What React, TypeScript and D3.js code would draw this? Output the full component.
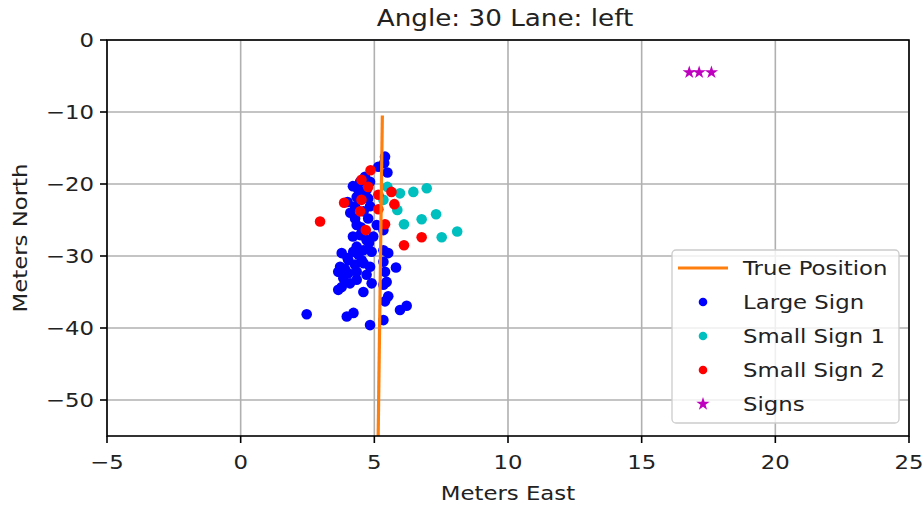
import React from 'react'
import * as d3 from 'd3'

// true path of the vehicle
const trueEast = [5.3, 5.14]
const trueNorth = [-10.5, -56]

// estimated positions from the large sign
const largeEast = [5.4, 5.37, 5.49, 5.15, 4.65, 4.47, 4.84, 4.4, 4.71, 4.34, 4.77, 4.28, 4.84, 4.28, 4.77, 4.34, 5.09, 5.34, 4.47, 4.96, 4.71, 4.34, 3.78, 4.21, 4.59, 4.9, 5.34, 5.52, 3.72, 4.03, 4.28, 4.53, 4.84, 5.34, 5.81, 3.65, 4.03, 4.34, 4.71, 5.4, 3.84, 4.34, 4.9, 5.46, 3.78, 4.09, 3.65, 4.59, 5.34, 5.52, 5.4, 5.96, 6.21, 2.47, 3.97, 4.22, 4.84, 5.34, 4.2, 4.5, 4.0, 4.6, 4.1, 4.5, 4.2, 4.8, 4.4, 4.0, 3.9, 4.6]
const largeNorth = [-16.2, -17.1, -18.4, -17.6, -19.0, -19.7, -19.7, -20.8, -20.8, -21.8, -22.0, -23.1, -23.1, -24.8, -24.8, -25.7, -25.7, -26.4, -27.1, -27.3, -27.8, -28.7, -29.6, -29.4, -29.2, -29.4, -29.2, -29.6, -31.5, -30.6, -31.2, -30.6, -31.5, -30.8, -31.6, -32.2, -32.4, -32.2, -32.6, -32.2, -33.1, -33.3, -33.8, -33.6, -34.3, -33.8, -34.7, -35.0, -34.0, -35.6, -36.3, -37.5, -36.9, -38.1, -38.4, -37.9, -39.6, -38.9, -20.3, -21.2, -22.5, -23.8, -24.0, -26.0, -27.3, -28.2, -29.8, -30.3, -31.8, -31.0]

// small sign 1
const small1East = [5.49, 5.96, 6.46, 6.96, 5.34, 5.86, 6.11, 6.77, 7.31, 7.52, 8.1]
const small1North = [-20.4, -21.3, -21.1, -20.6, -22.2, -23.6, -25.6, -24.9, -24.2, -27.4, -26.6]

// small sign 2
const small2East = [4.86, 4.52, 4.77, 5.64, 5.15, 4.52, 3.87, 5.75, 4.47, 5.15, 2.97, 5.4, 4.68, 6.77, 6.11]
const small2North = [-18.1, -19.4, -20.4, -21.1, -21.5, -22.2, -22.6, -22.8, -23.8, -23.5, -25.2, -25.6, -26.4, -27.4, -28.5]

// sign locations
const signEast = [16.78, 17.15, 17.61]
const signNorth = [-4.5, -4.5, -4.5]

const xTicks = [-5, 0, 5, 10, 15, 20, 25]
const yTicks = [0, -10, -20, -30, -40, -50]

const W = 924, H = 507
const left = 107, right = 909, top = 40, bottom = 436
const font = 'DejaVu Sans, sans-serif'
const ink = '#222'
const sx = 1.14 // glyphs in the source come out a bit wider

function Label({x, y, rotate = 0, anchor = 'start', size = 20, dy = '0', children}: any) {
  return (
    <text
      transform={`translate(${x},${y}) rotate(${rotate}) scale(${sx},1)`}
      textAnchor={anchor}
      dy={dy}
      fontSize={size}
      fill={ink}
    >
      {children}
    </text>
  )
}

export default function App() {
  const x = d3.scaleLinear().domain([-5, 25]).range([left, right])
  const y = d3.scaleLinear().domain([0, -55]).range([top, bottom])

  const dots = [
    {east: largeEast, north: largeNorth, color: '#0000ff'},
    {east: small1East, north: small1North, color: '#00bfbf'},
    {east: small2East, north: small2North, color: '#ff0000'},
  ]

  const line = d3.line<number>()
    .x(d => x(trueEast[d]))
    .y(d => y(trueNorth[d]))

  const star = d3.symbol().type(d3.symbolStar).size(55)

  const legendItems = [
    {label: 'True Position', kind: 'line', color: '#ff7f0e'},
    {label: 'Large Sign', kind: 'dot', color: '#0000ff'},
    {label: 'Small Sign 1', kind: 'dot', color: '#00bfbf'},
    {label: 'Small Sign 2', kind: 'dot', color: '#ff0000'},
    {label: 'Signs', kind: 'star', color: '#bf00bf'},
  ]

  const fmt = (t: number) => (t < 0 ? `\u2212${-t}` : `${t}`)

  return (
    <svg width={W} height={H} style={{position: 'absolute', left: 0, top: 0}} fontFamily={font}>
      <rect width={W} height={H} fill="#fff" />
      <defs>
        <clipPath id="plotArea">
          <rect x={left} y={top} width={right - left} height={bottom - top} />
        </clipPath>
      </defs>

      {/* grid */}
      <g stroke="#b0b0b0" strokeWidth={1.6}>
        {xTicks.map(t => <line key={`gx${t}`} x1={x(t)} x2={x(t)} y1={top} y2={bottom} />)}
        {yTicks.map(t => <line key={`gy${t}`} x1={left} x2={right} y1={y(t)} y2={y(t)} />)}
      </g>

      <g clipPath="url(#plotArea)">
        {dots.map((s, si) => (
          <g key={`s${si}`} fill={s.color}>
            {s.east.map((e, i) => (
              <circle key={i} cx={x(e)} cy={y(s.north[i])} r={5.3} />
            ))}
          </g>
        ))}
        {signEast.map((e, i) => (
          <path key={`st${i}`} d={star() as string} transform={`translate(${x(e)},${y(signNorth[i])})`} fill="#bf00bf" />
        ))}
        <path d={line(d3.range(trueEast.length)) as string} fill="none" stroke="#ff7f0e" strokeWidth={3.2} />
      </g>

      {/* spines */}
      <rect x={left} y={top} width={right - left} height={bottom - top} fill="none" stroke="#000" strokeWidth={1.6} />

      {/* x axis */}
      {xTicks.map(t => (
        <g key={`xt${t}`}>
          <line x1={x(t)} x2={x(t)} y1={bottom} y2={bottom + 7} stroke="#000" strokeWidth={1.6} />
          <Label x={x(t)} y={bottom + 33} anchor="middle">{fmt(t)}</Label>
        </g>
      ))}
      <Label x={(left + right) / 2} y={500} anchor="middle">Meters East</Label>

      {/* y axis */}
      {yTicks.map(t => (
        <g key={`yt${t}`}>
          <line x1={left - 7} x2={left} y1={y(t)} y2={y(t)} stroke="#000" strokeWidth={1.6} />
          <Label x={left - 13} y={y(t)} dy="0.36em" anchor="end">{fmt(t)}</Label>
        </g>
      ))}
      <Label x={27} y={(top + bottom) / 2} rotate={-90} anchor="middle">Meters North</Label>

      {/* title */}
      <Label x={505} y={26} anchor="middle" size={23}>Angle: 30 Lane: left</Label>

      {/* legend */}
      <g>
        <rect x={672} y={250} width={227} height={173} rx={4} fill="#fff" fillOpacity={0.8} stroke="#cccccc" strokeWidth={1.3} />
        {legendItems.map((d, i) => {
          const cy = 268 + i * 34
          return (
            <g key={d.label}>
              {d.kind === 'line' && <line x1={678} x2={728} y1={cy} y2={cy} stroke={d.color} strokeWidth={3.2} />}
              {d.kind === 'dot' && <circle cx={703} cy={cy} r={4.3} fill={d.color} />}
              {d.kind === 'star' && <path d={star() as string} transform={`translate(703,${cy})`} fill={d.color} />}
              <Label x={743} y={cy} dy="0.36em">{d.label}</Label>
            </g>
          )
        })}
      </g>
    </svg>
  )
}
